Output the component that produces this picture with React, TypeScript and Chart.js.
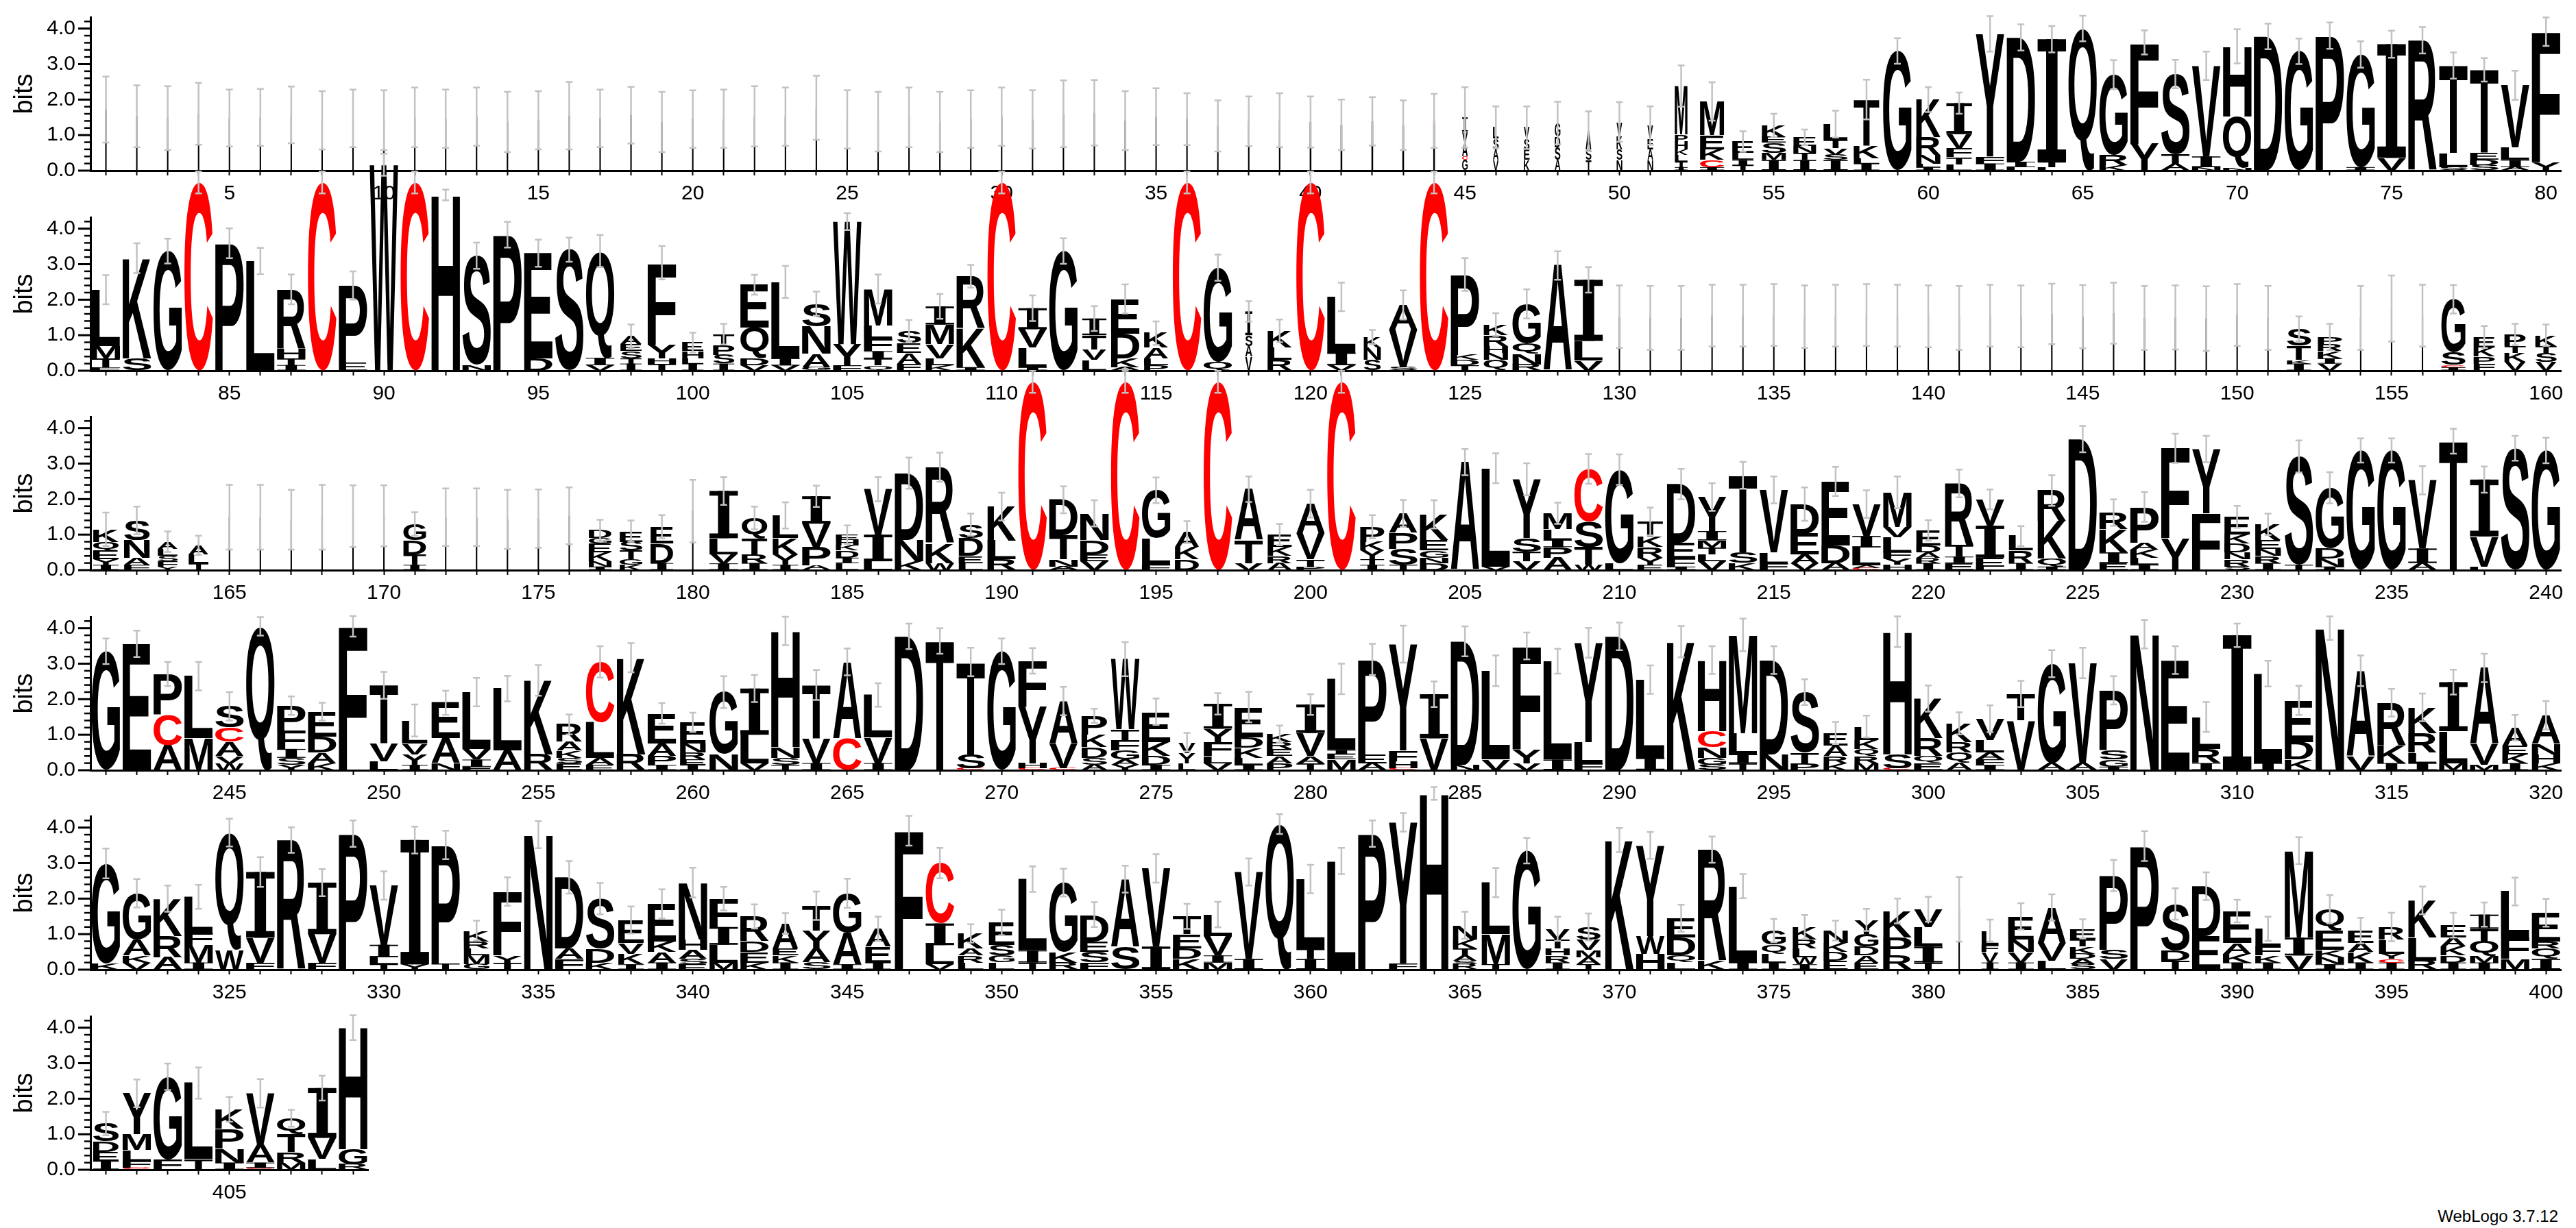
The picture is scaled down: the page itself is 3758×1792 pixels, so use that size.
import React, { useEffect, useRef } from 'react';
import { Chart, registerables } from 'chart.js';

Chart.register(...registerables);
Chart.defaults.font.family = '"Liberation Sans", Arial, sans-serif';

// ---------- DATA (stacks bottom -> top, "L:h" in bits, optional "@w" = relative stack width) ----------
const rowStarts = [1, 81, 161, 241, 321, 401];

const row1Stacks = [
  '@0.05 I:1.72', '@0.05 I:1.53', '@0.05 I:1.48', '@0.05 I:1.6', '@0.05 I:1.48',
  '@0.05 I:1.5', '@0.05 I:1.57', '@0.05 I:1.42', '@0.05 I:1.47', '@0.05 I:1.42',
  '@0.05 I:1.5', '@0.05 I:1.46', '@0.05 I:1.52', '@0.05 I:1.37', '@0.05 I:1.42',
  '@0.05 I:1.55', '@0.05 I:1.47', '@0.05 I:1.56', '@0.05 I:1.37', '@0.05 I:1.45',
  '@0.05 I:1.46', '@0.05 I:1.53', '@0.05 I:1.52', '@0.05 I:1.57 C:0.2', '@0.05 I:1.44',
  '@0.05 I:1.38', '@0.05 I:1.5', '@0.05 I:1.37', '@0.05 I:1.45', '@0.05 I:1.52',
  '@0.05 I:1.44', '@0.05 I:1.6', '@0.05 I:1.63', '@0.05 I:1.41', '@0.05 I:1.52',
  '@0.05 I:1.45', '@0.05 I:1.26', '@0.05 I:1.39', '@0.05 I:1.42', '@0.06 I:1.37',
  '@0.06 I:1.29', '@0.06 I:1.39', '@0.06 I:1.28', '@0.06 I:1.3 C:0.1', '@0.2 G:0.3 C:0.1 A:0.4 V:0.3 I:0.4',
  '@0.2 V:0.3 A:0.3 S:0.3 L:0.32', '@0.2 K:0.3 E:0.3 S:0.3 V:0.31', '@0.2 A:0.3 S:0.35 D:0.3 G:0.39', '@0.2 T:0.3 S:0.3 A:0.51', '@0.2 N:0.3 S:0.3 K:0.37 V:0.4',
  '@0.2 N:0.3 A:0.3 E:0.3 V:0.37', '@0.45 I:0.1 T:0.15 L:0.2 K:0.15 H:0.22 P:0.2 M:1.36', '@0.85 I:0.1 C:0.2 K:0.3 E:0.4 M:0.95', '@0.75 T:0.15 I:0.15 L:0.2 E:0.32', '@0.85 I:0.3 M:0.2 S:0.29 E:0.16 K:0.32',
  '@0.8 I:0.3 T:0.2 N:0.2 E:0.24', '@0.85 I:0.3 S:0.15 V:0.18 T:0.23 L:0.45', '@0.9 I:0.2 L:0.15 K:0.35 T:1.3', 'G:3.37', '@0.85 I:0.1 L:0.1 N:0.24 R:0.5 K:1.06',
  '@0.9 L:0.18 T:0.2 F:0.25 V:0.4 I:0.87', 'I:0.2 F:0.2 Y:3.45', 'L:0.1 I:0.15 D:3.5', 'L:0.1 T:0.15 I:3.45', 'Q:4.0',
  'K:0.15 R:0.3 G:2.25', 'Y:0.76 F:2.85', 'A:0.17 T:0.3 S:2.25', 'N:0.1 I:0.3 V:2.55', 'N:0.08 Q:1.45 H:1.97',
  'D:3.78', 'G:3.36', 'P:3.8', 'I:0.1 G:3.17', 'V:0.36 I:3.2',
  'R:3.67', 'S:0.1 L:0.4 T:2.46', 'S:0.15 D:0.15 E:0.2 T:2.34', 'A:0.1 I:0.2 L:0.35 V:1.75', 'Y:0.24 F:3.67',
];
const row1Err = [
  0.93, 0.87, 0.9, 0.87, 0.8, 0.8, 0.8, 0.82, 0.81, 0.84,
  0.84, 0.82, 0.82, 0.85, 0.82, 0.95, 0.81, 0.8, 0.85, 0.81,
  0.82, 0.85, 0.82, 0.9, 0.82, 0.84, 0.84, 0.85, 0.81, 0.82,
  0.82, 0.94, 0.92, 0.83, 0.8, 0.73, 0.72, 0.7, 0.76, 0.72,
  0.71, 0.68, 0.7, 0.76, 0.85, 0.59, 0.6, 0.6, 0.56, 0.56,
  0.54, 0.58, 0.54, 0.29, 0.33, 0.22, 0.38, 0.56, 0.36, 0.35,
  0.3, 0.5, 0.37, 0.37, 0.36, 0.41, 0.34, 0.4, 0.4, 0.48,
  0.36, 0.36, 0.37, 0.37, 0.38, 0.37, 0.37, 0.33, 0.41, 0.4,
];

const row2Stacks = [
  'F:0.1 T:0.25 M:0.35 L:1.58', 'S:0.35 K:2.82', 'G:3.37', 'C:5.3', 'P:3.59',
  'L:3.09', 'I:0.16 T:0.19 H:0.26 R:1.68', 'C:5.3', 'E:0.22 P:2.18', 'W:5.8',
  'C:5.3', 'H:4.95', 'N:0.16 S:3.08', 'P:3.83', 'D:0.35 E:2.96',
  'S:3.41', 'V:0.16 I:0.2 Q:3.01', '@0.75 I:0.2 T:0.15 S:0.2 E:0.2 A:0.22', 'T:0.2 H:0.15 Y:0.39 F:2.3', '@0.75 I:0.2 L:0.15 H:0.2 E:0.24',
  '@0.75 I:0.2 S:0.25 P:0.28 T:0.3', 'V:0.16 D:0.19 Q:0.87 E:1.2', 'V:0.15 I:0.2 L:2.15', 'G:0.1 A:0.38 N:0.77 S:0.64', 'F:0.15 Y:0.6 W:3.45',
  'Q:0.15 T:0.2 I:0.2 F:0.35 L:0.38 M:1.02', '@0.85 F:0.2 A:0.3 E:0.28 S:0.34', 'K:0.15 L:0.2 V:0.4 M:0.55 I:0.51', 'I:0.1 K:1.09 R:1.47', 'C:5.3',
  'I:0.1 L:0.55 V:0.52 I:0.59', 'G:3.37', '@0.85 L:0.3 V:0.3 T:0.4 I:0.47', 'A:0.1 K:0.25 D:0.7 E:0.97', '@0.85 P:0.15 L:0.2 A:0.3 K:0.41',
  'C:5.3', 'Q:0.25 G:2.65', '@0.25 V:0.4 A:0.3 S:0.3 I:0.67', '@0.85 R:0.3 L:0.35 K:0.47', 'C:5.3',
  'V:0.16 I:0.35 L:1.57', '@0.6 S:0.3 N:0.35 K:0.3', 'S:0.1 V:1.05 A:0.7', 'C:5.3', 'T:0.15 D:0.15 K:0.15 P:2.26',
  '@0.85 Q:0.3 N:0.2 H:0.2 R:0.3 K:0.3', 'R:0.18 N:0.3 Q:0.3 G:1.1', 'A:2.96', 'V:0.29 L:0.55 I:1.72', '@0.05 I:1.52',
  '@0.05 I:1.49', '@0.05 I:1.49', '@0.05 I:1.55', '@0.05 I:1.55', '@0.05 I:1.57',
  '@0.05 I:1.52', '@0.05 I:1.55', '@0.05 I:1.57', '@0.05 I:1.55', '@0.05 I:1.53',
  '@0.05 I:1.49', '@0.05 I:1.55', '@0.05 I:1.53', '@0.05 I:1.6', '@0.05 I:1.52',
  '@0.05 I:1.62', '@0.05 I:1.49', '@0.05 I:1.5', '@0.05 I:1.47', '@0.05 I:1.57',
  '@0.05 I:1.49', '@0.85 I:0.2 K:0.1 T:0.4 S:0.48', '@0.85 V:0.2 I:0.15 K:0.2 R:0.2 P:0.2', '@0.05 I:1.49', '@0.05 I:1.75',
  '@0.05 I:1.55', '@0.85 I:0.1 C:0.06 S:0.35 G:1.5', '@0.75 F:0.2 P:0.2 K:0.25 E:0.3', '@0.75 V:0.25 K:0.25 T:0.2 P:0.32', '@0.75 V:0.25 S:0.25 T:0.2 K:0.3',
];
const row2Err = [
  0.41, 0.42, 0.35, 0.31, 0.42, 0.37, 0.42, 0.31, 0.4, 0.31,
  0.31, 0.15, 0.37, 0.36, 0.38, 0.34, 0.45, 0.33, 0.47, 0.28,
  0.29, 0.28, 0.45, 0.34, 0.24, 0.41, 0.31, 0.35, 0.32, 0.31,
  0.36, 0.36, 0.35, 0.41, 0.33, 0.31, 0.37, 0.29, 0.32, 0.31,
  0.4, 0.2, 0.41, 0.31, 0.46, 0.32, 0.41, 0.4, 0.36, 0.88,
  0.9, 0.9, 0.87, 0.87, 0.87, 0.88, 0.87, 0.87, 0.87, 0.87,
  0.9, 0.87, 0.87, 0.85, 0.89, 0.86, 0.9, 0.9, 0.91, 0.87,
  0.9, 0.35, 0.37, 0.9, 0.93, 0.87, 0.4, 0.31, 0.3, 0.3,
];

const row3Stacks = [
  '@0.9 I:0.15 Y:0.15 E:0.25 Q:0.25 K:0.35', '@0.9 F:0.15 A:0.2 N:0.5 S:0.55', '@0.7 Y:0.1 F:0.15 S:0.15 L:0.2 A:0.2', '@0.7 T:0.2 L:0.25 A:0.25', '@0.05 I:1.49',
  '@0.05 I:1.49', '@0.05 I:1.42', '@0.05 I:1.49', '@0.05 I:1.52', '@0.05 I:1.53',
  '@0.8 I:0.15 T:0.3 D:0.4 G:0.45', '@0.05 I:1.49', '@0.05 I:1.49', '@0.05 I:1.43', '@0.05 I:1.45',
  '@0.05 I:1.53', '@0.8 I:0.1 N:0.15 K:0.25 E:0.25 G:0.15 D:0.22', '@0.8 K:0.15 G:0.15 T:0.25 S:0.25 E:0.3', '@0.8 I:0.2 D:0.55 E:0.47', '@0.05 I:1.66',
  'I:0.19 V:0.26 L:0.45 I:1.33', '@0.9 I:0.2 R:0.25 T:0.45 Q:0.57', '@0.9 I:0.15 Y:0.3 K:0.45 L:0.64', 'A:0.13 P:0.51 V:0.67 I:0.77', '@0.8 L:0.2 I:0.15 D:0.2 K:0.15 H:0.15 E:0.15',
  'L:0.25 I:0.75 V:1.28', 'K:0.25 N:0.6 D:1.88', 'W:0.2 K:0.55 R:2.15', '@0.85 L:0.2 E:0.2 D:0.5 S:0.38', 'R:0.3 L:0.53 K:0.96',
  'C:5.3', 'A:0.1 N:0.2 T:0.68 D:1.0', 'V:0.25 E:0.2 D:0.4 N:0.75', 'C:5.3', 'F:0.15 L:0.75 G:1.35',
  '@0.85 D:0.3 K:0.35 A:0.42', 'C:5.3', 'V:0.2 T:0.65 A:1.43', '@0.85 A:0.2 R:0.2 K:0.25 E:0.35', 'P:0.1 T:0.2 V:0.73 A:0.84',
  'C:5.3', '@0.85 I:0.15 T:0.15 Y:0.25 K:0.25 P:0.42', 'T:0.15 S:0.45 P:0.45 A:0.55', 'D:0.2 N:0.15 G:0.2 E:0.3 K:0.72', 'A:3.04',
  'V:0.1 L:2.77', 'V:0.25 T:0.26 S:0.39 Y:1.66', 'A:0.35 P:0.3 I:0.2 L:0.3 M:0.45', 'W:0.15 T:0.5 S:0.72 C:1.48', 'L:0.2 G:2.63',
  '@0.9 E:0.15 Y:0.2 R:0.3 K:0.3 T:0.42', 'I:0.1 F:0.22 E:0.45 D:1.65', 'V:0.25 L:0.2 T:0.19 M:0.2 I:0.26 Y:0.96', 'K:0.2 S:0.3 T:2.17', 'F:0.2 L:0.3 V:1.76',
  'V:0.2 A:0.25 E:0.58 D:0.83', 'A:0.2 D:0.5 E:1.8', 'C:0.05 A:0.08 L:0.51 I:0.32 V:0.9', 'H:0.15 Y:0.17 F:0.19 L:0.42 V:0.29 M:0.97', '@0.85 I:0.2 R:0.15 A:0.15 D:0.2 E:0.42',
  'E:0.2 I:0.18 T:0.33 R:1.73', 'L:0.1 E:0.25 I:0.9 V:0.74', '@0.85 I:0.2 R:0.35 L:0.41', 'I:0.1 Q:0.22 K:1.06 R:0.86', 'D:3.69',
  'E:0.2 I:0.3 K:0.65 R:0.47', 'I:0.15 L:0.2 K:0.23 A:0.2 P:1.0', 'Y:0.9 F:2.53', 'F:1.6 Y:1.81', '@0.9 S:0.1 R:0.2 N:0.2 D:0.25 K:0.25 E:0.5',
  '@0.9 I:0.2 R:0.2 N:0.2 E:0.25 K:0.44', 'T:0.15 S:3.05', 'I:0.1 N:0.22 D:0.3 G:1.7', 'G:3.37', 'G:3.37',
  'A:0.2 I:0.41 V:1.92', 'T:3.63', 'L:0.1 V:0.85 I:1.6', 'S:3.43', 'G:3.37',
];
const row3Err = [
  0.47, 0.39, 0.29, 0.27, 0.91, 0.91, 0.84, 0.91, 0.87, 0.86,
  0.33, 0.81, 0.81, 0.83, 0.82, 0.8, 0.3, 0.3, 0.33, 0.88,
  0.39, 0.32, 0.37, 0.3, 0.26, 0.34, 0.44, 0.41, 0.31, 0.39,
  0.31, 0.38, 0.37, 0.31, 0.36, 0.31, 0.31, 0.36, 0.3, 0.39,
  0.31, 0.33, 0.38, 0.4, 0.37, 0.42, 0.45, 0.3, 0.42, 0.43,
  0.39, 0.43, 0.39, 0.38, 0.38, 0.47, 0.41, 0.39, 0.45, 0.29,
  0.39, 0.28, 0.28, 0.43, 0.37, 0.37, 0.42, 0.41, 0.37, 0.31,
  0.3, 0.45, 0.44, 0.34, 0.34, 0.4, 0.35, 0.37, 0.35, 0.36,
];

const row4Stacks = [
  'G:3.35', 'E:3.56', 'A:0.7 C:0.87 P:1.14', 'M:0.9 L:1.75', 'W:0.2 V:0.2 A:0.4 C:0.4 S:0.6',
  'Q:4.05', 'Y:0.15 S:0.2 I:0.25 F:0.52 P:0.7', 'K:0.2 A:0.3 D:0.45 E:0.7', 'F:4.05', 'L:0.25 V:0.5 T:1.64',
  '@0.9 I:0.15 Y:0.3 V:0.3 L:0.65', 'N:0.2 A:0.7 E:1.0', 'F:0.1 I:0.2 V:0.3 L:1.6', 'A:0.55 L:1.75', 'R:0.45 K:2.08',
  '@0.9 E:0.2 S:0.15 K:0.2 A:0.25 R:0.49', 'E:0.15 A:0.2 L:1.0 C:1.7', 'R:0.45 K:2.72', 'I:0.15 P:0.25 A:0.35 E:0.85', '@0.9 I:0.15 E:0.15 R:0.2 N:0.25 E:0.6',
  'N:0.45 G:1.75', 'V:0.2 L:0.8 I:1.3', 'T:0.15 S:0.2 N:0.3 H:3.27', 'I:0.2 V:0.7 T:1.5', 'C:0.9 A:2.15',
  'I:0.2 V:0.72 L:1.2', 'D:3.77', 'T:3.64', 'C:0.05 S:0.4 T:2.6', 'G:3.35',
  'C:0.05 H:0.15 Y:1.6 F:1.28', 'C:0.05 V:0.7 A:1.2', '@0.9 A:0.15 S:0.2 D:0.3 K:0.35 P:0.53', 'Y:0.15 A:0.15 G:0.25 F:0.3 T:0.3 W:1.98', 'I:0.15 D:0.25 K:0.4 E:0.85',
  '@0.6 L:0.2 Y:0.29 V:0.3', 'V:0.2 L:0.2 F:0.4 Y:0.37 I:0.7', 'I:0.15 L:0.2 K:0.28 D:0.3 E:0.85', '@0.9 P:0.2 A:0.2 E:0.2 R:0.2 K:0.22', 'T:0.2 A:0.2 V:0.65 I:0.8',
  'M:0.3 E:0.15 I:0.12 L:2.0', 'A:0.2 E:0.25 P:2.67', 'C:0.05 H:0.2 F:0.3 Y:3.0', 'V:0.9 I:1.24', 'N:0.15 D:3.48',
  'V:0.3 L:2.5', 'V:0.2 Y:0.4 F:2.9', 'I:0.3 L:2.77', 'F:0.2 L:0.59 Y:2.8', 'D:3.77',
  'I:0.35 L:2.2', 'K:3.62', 'S:0.15 G:0.2 N:0.3 C:0.45 H:2.0', 'T:0.2 I:0.25 L:0.6 M:2.76', 'N:0.45 D:2.65',
  'P:0.2 T:0.3 S:1.7', '@0.85 K:0.2 R:0.2 A:0.3 E:0.35', '@0.85 M:0.2 R:0.2 Q:0.2 K:0.25 L:0.38', 'C:0.05 S:0.4 H:3.45', 'E:0.2 Q:0.2 R:0.5 K:1.12',
  '@0.9 A:0.2 Q:0.3 R:0.3 K:0.52', 'I:0.15 F:0.15 A:0.2 L:0.35 V:0.6', 'V:1.4 T:0.75', 'A:0.2 G:2.8', 'A:0.2 V:2.82',
  'I:0.1 G:0.2 S:0.25 P:1.7', 'N:3.83', 'E:3.1', 'I:0.2 R:0.4 L:0.9', 'I:3.8',
  'I:0.2 L:2.52', 'K:0.3 D:0.5 E:1.17', 'N:4.0', 'V:0.4 A:2.4', 'I:0.2 K:0.5 R:1.2',
  'I:0.2 L:0.3 R:0.55 K:0.72', 'M:0.2 L:0.9 I:1.38', 'M:0.15 V:0.6 A:2.13', '@0.9 I:0.2 K:0.25 E:0.25 A:0.5', 'K:0.2 H:0.25 N:0.3 A:0.8',
];
const row4Err = [
  0.36, 0.37, 0.34, 0.4, 0.4, 0.26, 0.26, 0.25, 0.29, 0.38,
  0.45, 0.34, 0.4, 0.36, 0.43, 0.28, 0.44, 0.41, 0.29, 0.27,
  0.45, 0.38, 0.4, 0.42, 0.38, 0.33, 0.36, 0.36, 0.4, 0.36,
  0.36, 0.4, 0.2, 0.48, 0.37, 0.26, 0.3, 0.43, 0.24, 0.29,
  0.43, 0.44, 0.52, 0.36, 0.42, 0.43, 0.38, 0.35, 0.42, 0.39,
  0.4, 0.44, 0.39, 0.46, 0.39, 0.36, 0.31, 0.31, 0.43, 0.37,
  0.31, 0.38, 0.37, 0.38, 0.43, 0.4, 0.4, 0.39, 0.42, 0.33,
  0.36, 0.41, 0.33, 0.43, 0.39, 0.39, 0.35, 0.4, 0.36, 0.4,
];

const row5Stacks = [
  'K:0.18 G:2.81', 'V:0.2 K:0.2 A:0.45 G:1.3', 'A:0.35 R:0.6 K:1.05', 'I:0.2 M:0.5 F:0.35 L:1.0', 'W:0.56 Q:3.3',
  'F:0.2 V:0.7 I:1.85', 'R:3.65', 'F:0.2 V:0.8 I:1.45', 'P:3.83', 'T:0.15 L:0.2 I:0.35 V:1.67',
  'Y:0.15 I:3.5', 'T:0.18 P:3.33', '@0.9 G:0.15 M:0.25 L:0.2 R:0.2 K:0.3', 'T:0.2 Y:0.2 F:1.8', 'N:3.8',
  'F:0.3 A:0.3 D:2.0', 'K:0.2 D:0.4 S:1.4', '@0.9 I:0.15 K:0.3 V:0.3 E:0.65', 'I:0.2 A:0.3 K:0.3 E:1.05', 'E:0.15 S:0.15 A:0.25 H:0.3 N:1.6',
  'M:0.2 L:0.5 I:0.5 F:0.8', 'K:0.2 E:0.3 D:0.3 R:0.7', '@0.9 I:0.2 K:0.2 E:0.2 A:0.7', 'S:0.2 A:0.4 Y:0.5 T:0.7', 'I:0.15 A:0.9 G:1.1',
  '@0.9 I:0.2 E:0.45 A:0.5', 'F:3.91', 'V:0.15 L:0.54 I:0.61 C:1.7', '@0.9 L:0.2 R:0.2 A:0.2 K:0.42', '@0.9 L:0.2 G:0.2 S:0.3 E:0.63',
  'T:0.2 I:0.35 L:2.0', 'R:0.2 K:0.3 G:1.95', 'F:0.2 S:0.3 E:0.3 D:0.75', 'S:0.65 A:1.9', 'I:0.65 V:2.2',
  'K:0.3 D:0.3 E:0.4 T:0.5', 'M:0.2 I:0.2 V:0.55 L:0.6', 'I:0.3 V:2.45', 'Q:4.1', 'I:0.3 T:0.3 L:1.95',
  'L:3.06', 'P:3.83', 'F:0.18 Y:3.97', 'H:4.96', '@0.85 R:0.15 S:0.1 A:0.15 T:0.2 K:0.25 N:0.4',
  'T:0.15 M:0.85 L:1.45', 'G:3.35', '@0.85 I:0.2 R:0.2 H:0.2 T:0.25 V:0.3', '@0.85 T:0.15 A:0.2 M:0.2 V:0.3 S:0.35', 'K:3.65',
  'H:0.45 W:0.5 Y:2.55', 'L:0.2 Q:0.2 D:0.5 E:0.55', 'K:0.25 R:3.13', 'I:0.2 L:2.15', '@0.85 I:0.2 L:0.25 Q:0.25 G:0.4',
  '@0.85 I:0.15 W:0.2 L:0.25 R:0.25 K:0.35', '@0.85 E:0.25 D:0.25 K:0.25 N:0.35', '@0.85 E:0.2 A:0.2 D:0.25 G:0.35 Y:0.4', 'R:0.4 P:0.5 K:0.75', 'T:0.2 I:0.45 L:0.55 V:0.5',
  '@0.05 I:1.7', '@0.6 I:0.2 V:0.3 F:0.2 L:0.4', '@0.9 I:0.2 V:0.3 N:0.35 E:0.65', 'L:0.25 V:0.5 A:1.0', '@0.9 S:0.15 A:0.15 D:0.15 K:0.2 T:0.2 E:0.3',
  'V:0.3 S:0.25 P:2.1', 'P:3.48', 'T:0.25 D:0.3 S:1.3', 'E:0.95 D:1.4', 'I:0.2 K:0.25 A:0.3 E:0.9',
  '@0.9 I:0.2 K:0.2 F:0.25 L:0.5', 'V:0.4 I:0.5 M:2.45', 'I:0.15 N:0.2 K:0.2 E:0.55 Q:0.6', '@0.9 I:0.2 K:0.3 A:0.25 E:0.35', '@0.9 I:0.2 C:0.1 Y:0.15 L:0.4 R:0.35',
  'R:0.25 L:0.65 K:1.05', '@0.9 I:0.2 D:0.2 K:0.25 A:0.25 E:0.35', 'I:0.2 M:0.2 Q:0.4 T:0.35 I:0.4', 'M:0.3 F:0.6 L:1.3', 'I:0.3 Q:0.3 R:0.2 E:0.8',
];
const row5Err = [
  0.42, 0.4, 0.37, 0.34, 0.39, 0.42, 0.36, 0.38, 0.37, 0.4,
  0.38, 0.4, 0.28, 0.4, 0.38, 0.46, 0.44, 0.38, 0.41, 0.42,
  0.33, 0.34, 0.29, 0.4, 0.41, 0.34, 0.42, 0.43, 0.26, 0.36,
  0.36, 0.39, 0.35, 0.38, 0.4, 0.35, 0.36, 0.38, 0.28, 0.4,
  0.37, 0.37, 0.26, 0.18, 0.38, 0.41, 0.36, 0.34, 0.38, 0.34,
  0.38, 0.38, 0.37, 0.34, 0.33, 0.34, 0.28, 0.31, 0.35, 0.35,
  0.91, 0.31, 0.37, 0.37, 0.27, 0.44, 0.42, 0.44, 0.39, 0.32,
  0.34, 0.38, 0.4, 0.36, 0.4, 0.39, 0.35, 0.34, 0.39, 0.39,
];

const row6Stacks = [
  '@0.9 I:0.25 E:0.25 D:0.3 S:0.5', 'C:0.05 F:0.2 L:0.3 M:0.45 Y:1.15', 'F:0.3 G:2.32', 'T:0.3 L:2.14', 'I:0.2 N:0.4 P:0.55 K:0.55',
  'C:0.05 I:0.15 A:0.5 V:1.45', 'M:0.2 R:0.3 T:0.5 Q:0.45', 'L:0.3 V:0.6 I:1.4', 'R:0.15 G:0.42 H:3.43',
];
const row6Err = [0.33, 0.39, 0.37, 0.44, 0.35, 0.4, 0.24, 0.35, 0.35];

const rowStacks = [row1Stacks, row2Stacks, row3Stacks, row4Stacks, row5Stacks, row6Stacks];
const rowErrs = [row1Err, row2Err, row3Err, row4Err, row5Err, row6Err];

const yMajorTicks = [0, 1, 2, 3, 4];
const yMinorStep = 0.2;
const xLabelEvery = 5;
const Y_MAX = 4.3219;

// ---------- STYLE / LAYOUT ----------
const W = 3758;
const H = 1792;
const BASE0 = 249;
const ROW_PITCH = 291.6;
const PLOT_H = 224;
const OVER = 100;
const XAXIS_H = 60;
const PLOT_LEFT = 132;
const COL_W = 45.06;
const FULL_COLS = 80;
const GLYPH_FONT = 'bold 200px "Liberation Sans", Arial, sans-serif';
const ERR_COLOR = '#c2c2c2';
const letterColors: Record<string, string> = { C: '#ff0000' };

type Stack = { w: number; letters: string[]; heights: number[] };

function parseStack(s: string): Stack {
  let w = 1;
  const letters: string[] = [];
  const heights: number[] = [];
  for (const tok of s.trim().split(/\s+/)) {
    if (tok[0] === '@') w = parseFloat(tok.slice(1));
    else {
      const [ch, h] = tok.split(':');
      letters.push(ch);
      heights.push(parseFloat(h));
    }
  }
  return { w, letters, heights };
}

const glyphCache = new Map<string, { l: number; r: number; a: number; d: number }>();
function glyphBox(ctx: CanvasRenderingContext2D, ch: string) {
  let b = glyphCache.get(ch);
  if (!b) {
    ctx.save();
    ctx.font = GLYPH_FONT;
    const m = ctx.measureText(ch);
    ctx.restore();
    b = { l: m.actualBoundingBoxLeft, r: m.actualBoundingBoxRight, a: m.actualBoundingBoxAscent, d: m.actualBoundingBoxDescent };
    glyphCache.set(ch, b);
  }
  return b;
}

function drawGlyph(ctx: CanvasRenderingContext2D, ch: string, x0: number, y0: number, w: number, h: number) {
  if (h < 0.4 || w <= 0) return;
  const color = letterColors[ch] || '#000000';
  ctx.save();
  ctx.fillStyle = color;
  if (w < 5) {
    ctx.fillRect(x0, y0, w, h);
  } else if (ch === 'I') {
    const bh = Math.max(1, h * 0.1);
    const sw = w * 0.4;
    ctx.fillRect(x0, y0, w, bh);
    ctx.fillRect(x0, y0 + h - bh, w, bh);
    ctx.fillRect(x0 + (w - sw) / 2, y0, sw, h);
  } else {
    const b = glyphBox(ctx, ch);
    const iw = b.l + b.r;
    const ih = b.a + b.d;
    ctx.translate(x0, y0);
    ctx.scale(w / iw, h / ih);
    ctx.font = GLYPH_FONT;
    ctx.textAlign = 'left';
    ctx.textBaseline = 'alphabetic';
    ctx.fillText(ch, b.l, b.a);
  }
  ctx.restore();
}

function makeLogoPlugin(stacks: Stack[], errs: number[]) {
  return {
    id: 'logoGlyphs',
    afterDatasetsDraw(chart: any) {
      const ctx: CanvasRenderingContext2D = chart.ctx;
      chart.data.datasets.forEach((ds: any, j: number) => {
        const meta = chart.getDatasetMeta(j);
        meta.data.forEach((el: any, i: number) => {
          const ch = ds.letters[i];
          if (!ch || ds.data[i] == null) return;
          const p = el.getProps(['x', 'y', 'base', 'width'], true);
          const top = Math.min(p.y, p.base);
          const hh = Math.abs(p.base - p.y);
          const gw = p.width * 0.92 * stacks[i].w;
          drawGlyph(ctx, ch, p.x - gw / 2, top, gw, hh);
        });
      });
      // error bars
      const xs = chart.scales.x;
      const ys = chart.scales.y;
      ctx.save();
      ctx.strokeStyle = ERR_COLOR;
      ctx.lineWidth = 2.5;
      stacks.forEach((s, i) => {
        const total = s.heights.reduce((a, b) => a + b, 0);
        const e = errs[i];
        const x = xs.getPixelForValue(i);
        const yT = ys.getPixelForValue(total + e);
        const yB = ys.getPixelForValue(total - e);
        ctx.beginPath();
        ctx.moveTo(x, yT);
        ctx.lineTo(x, yB);
        ctx.moveTo(x - 5, yT);
        ctx.lineTo(x + 5, yT);
        ctx.moveTo(x - 5, yB);
        ctx.lineTo(x + 5, yB);
        ctx.stroke();
      });
      ctx.restore();
    },
    afterDraw(chart: any) {
      const ctx: CanvasRenderingContext2D = chart.ctx;
      const ys = chart.scales.y;
      const x0 = ys.right - 1;
      ctx.save();
      ctx.strokeStyle = '#000';
      const n = Math.floor(Y_MAX / yMinorStep + 1e-9);
      for (let k = 0; k <= n; k++) {
        const v = k * yMinorStep;
        const major = yMajorTicks.some((m) => Math.abs(m - v) < 1e-6);
        const py = ys.getPixelForValue(v);
        ctx.lineWidth = major ? 3 : 2.5;
        ctx.beginPath();
        ctx.moveTo(x0 - (major ? 17 : 8), py);
        ctx.lineTo(x0, py);
        ctx.stroke();
      }
      ctx.restore();
    },
  };
}

function LogoRow({ r }: { r: number }) {
  const ref = useRef<HTMLCanvasElement | null>(null);
  const stacks = rowStacks[r].map(parseStack);
  const nCols = stacks.length;
  const plotRight = PLOT_LEFT + nCols * COL_W;
  const cw = nCols === FULL_COLS ? W : Math.ceil(plotRight + 60);
  const ch = OVER + PLOT_H + XAXIS_H;
  const top = Math.round(BASE0 + r * ROW_PITCH - PLOT_H - OVER);

  useEffect(() => {
    if (!ref.current) return;
    const start = rowStarts[r];
    const labels = stacks.map((_, i) => String(start + i));
    const layers = Math.max(...stacks.map((s) => s.letters.length));
    const datasets = [] as any[];
    for (let j = 0; j < layers; j++) {
      datasets.push({
        data: stacks.map((s) => (j < s.heights.length ? s.heights[j] : null)),
        letters: stacks.map((s) => (j < s.letters.length ? s.letters[j] : '')),
        backgroundColor: 'rgba(0,0,0,0)',
        borderWidth: 0,
        categoryPercentage: 1,
        barPercentage: 1,
      });
    }
    const chart = new Chart(ref.current, {
      type: 'bar',
      data: { labels, datasets },
      options: {
        animation: false,
        responsive: false,
        events: [],
        layout: { padding: { top: OVER, right: cw - plotRight, left: 0, bottom: 0 } },
        plugins: { legend: { display: false }, tooltip: { enabled: false }, title: { display: false } },
        scales: {
          x: {
            stacked: true,
            offset: true,
            grid: { offset: false, drawOnChartArea: false, tickLength: 7, tickWidth: 2, color: '#000' },
            border: { display: true, color: '#000', width: 3 },
            ticks: {
              autoSkip: false,
              maxRotation: 0,
              minRotation: 0,
              padding: 9,
              color: '#000',
              font: { size: 30 },
              callback: (_v: any, i: number) => ((start + i) % xLabelEvery === 0 ? String(start + i) : ''),
            },
            afterFit: (s: any) => {
              s.height = XAXIS_H;
            },
          },
          y: {
            stacked: true,
            min: 0,
            max: Y_MAX,
            grid: { drawOnChartArea: false, drawTicks: false },
            border: { display: true, color: '#000', width: 3 },
            ticks: {
              stepSize: 1,
              includeBounds: false,
              padding: 22,
              color: '#000',
              font: { size: 30 },
              callback: (v: any) => (yMajorTicks.some((m) => Math.abs(m - Number(v)) < 1e-6) ? Number(v).toFixed(1) : ''),
            },
            title: { display: true, text: 'bits', color: '#000', font: { size: 38 }, padding: { top: 14, bottom: 0 } },
            afterFit: (s: any) => {
              s.width = PLOT_LEFT;
            },
          },
        },
      } as any,
      plugins: [makeLogoPlugin(stacks, rowErrs[r])],
    });
    return () => chart.destroy();
  }, []);

  return (
    <canvas
      ref={ref}
      width={cw}
      height={ch}
      style={{ position: 'absolute', left: 0, top, width: cw + 'px', height: ch + 'px' }}
    />
  );
}

export default function App() {
  return (
    <div style={{ position: 'absolute', left: 0, top: 0, width: W, height: H, overflow: 'hidden', background: '#fff' }}>
      {[0, 1, 2, 3, 4, 5].map((r) => (
        <LogoRow key={r} r={r} />
      ))}
      <div
        style={{
          position: 'absolute',
          right: 26,
          top: 1761,
          fontFamily: '"Liberation Sans", Arial, sans-serif',
          fontSize: 24,
          color: '#000',
          whiteSpace: 'nowrap',
        }}
      >
        WebLogo 3.7.12
      </div>
    </div>
  );
}
